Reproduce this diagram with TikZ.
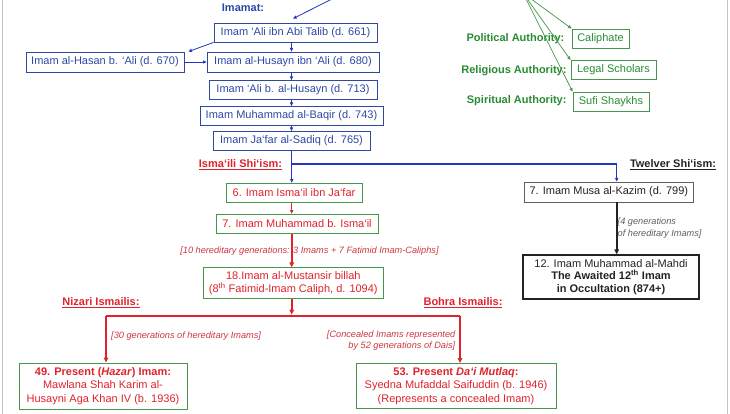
\documentclass[tikz,border=0pt]{standalone}
\usepackage{fontspec}
\setmainfont{Liberation Sans}
\usetikzlibrary{arrows.meta}
\definecolor{bluet}{RGB}{45,72,165}
\definecolor{bluel}{RGB}{35,55,195}
\definecolor{greent}{RGB}{40,140,50}
\definecolor{greenb}{RGB}{70,150,75}
\definecolor{redt}{RGB}{222,35,45}
\definecolor{redi}{RGB}{205,55,65}
\definecolor{darkt}{RGB}{35,35,35}
\definecolor{greyb}{RGB}{95,95,95}
\definecolor{pageline}{RGB}{195,195,195}
\begin{document}
\begin{tikzpicture}[x=1pt,y=-1pt,
  font=\fontsize{11}{13.4}\selectfont,
  tip/.style={-{Triangle[length=3.6pt,width=3.2pt]}},
  bigtip/.style={-{Triangle[length=5pt,width=4.5pt]}},
  bbox/.style={draw=bluet,text=bluet,line width=0.8pt,inner sep=0pt,minimum height=19pt},
  gbox/.style={draw=greenb,line width=0.9pt,inner sep=0pt,minimum height=19pt,align=center},
  kbox/.style={draw=greyb,text=darkt,line width=0.9pt,inner sep=0pt,minimum height=20pt},
  lbl/.style={inner sep=0pt,font=\fontsize{11}{13}\selectfont\bfseries},
  ital/.style={inner sep=0pt,font=\fontsize{9.2}{11.6}\selectfont\itshape},
  bluel/.style={draw=bluel,line width=0.8pt},
  redl/.style={draw=redt,line width=1.9pt},
  greenl/.style={draw=greenb,line width=0.7pt}
]
\useasboundingbox (0,0) rectangle (730,414);
\draw[pageline,line width=1pt] (2,0) -- (2,414);
\draw[pageline,line width=1pt] (727.7,0) -- (727.7,414);

% Imamat chain
\node[lbl,text=bluet] (imamat) at (243,8) {Imamat:};
\coordinate (itop) at (336,-3);
\node[bbox,minimum width=163pt] (ali) at (295.5,32.5) {Imam ‘Ali ibn Abi Talib (d. 661)};
\node[bbox,minimum width=158pt,minimum height=20pt] (hasan) at (105,62) {Imam al-Hasan b. ‘Ali (d. 670)};
\node[bbox,minimum width=172pt,minimum height=20pt] (husayn) at (293,62) {Imam al-Husayn ibn ‘Ali (d. 680)};
\node[bbox,minimum width=168pt] (alib) at (293,90) {Imam ‘Ali b. al-Husayn (d. 713)};
\node[bbox,minimum width=183pt] (baqir) at (291.5,116) {Imam Muhammad al-Baqir (d. 743)};
\node[bbox,minimum width=157pt] (jafar) at (291.5,141) {Imam Ja‘far al-Sadiq (d. 765)};

\draw[bluel,tip] (itop) -- ([shift={(-2.5pt,4pt)}]ali.north);
\draw[bluel,tip] (ali.south west) -- ([xshift=4pt]hasan.north east);
\draw[bluel,tip] (hasan.east) -- (husayn.west);
\draw[bluel,tip] (ali.south -| jafar.center) -- (husayn.north -| jafar.center);
\draw[bluel,tip] (husayn.south -| jafar.center) -- (alib.north -| jafar.center);
\draw[bluel,tip] (alib.south -| jafar.center) -- (baqir.north -| jafar.center);
\draw[bluel,tip] (baqir.south -| jafar.center) -- (jafar.north -| jafar.center);

% authorities
\coordinate (gtop) at (523,-7);
\node[gbox,text=greent,minimum width=57pt] (caliph) at (600.5,38.5) {Caliphate};
\node[gbox,text=greent,minimum width=85pt] (legal) at (613.5,70) {Legal Scholars};
\node[gbox,text=greent,minimum width=76pt] (sufi) at (611,101.5) {Sufi Shaykhs};
\node[lbl,text=greent,anchor=east] (pol) at (564.5,39) {Political Authority:};
\node[lbl,text=greent,anchor=east] (rel) at (566.7,71) {Religious Authority:};
\node[lbl,text=greent,anchor=east] (spi) at (566.7,100.5) {Spiritual Authority:};
\draw[greenl,tip] (gtop) -- (caliph.north west);
\draw[greenl,tip] (gtop) -- (legal.north west);
\draw[greenl,tip] (gtop) -- (sufi.north west);

% branching
\node[lbl,text=redt] (isml) at (240.5,165) {\underline{Isma‘ili Shi‘ism:}};
\node[lbl,text=darkt] (twl) at (673,165) {\underline{Twelver Shi‘ism:}};
\coordinate (br) at (291.7,164);
\coordinate (tw) at (616.7,164);
\node[gbox,text=redt,minimum width=136pt] (isma) at (294,192.7) {6. Imam Isma‘il ibn Ja‘far};
\node[gbox,text=redt,minimum width=162pt] (muh7) at (297,223.7) {7. Imam Muhammad b. Isma‘il};
\node[gbox,text=redt,minimum width=180pt,minimum height=31pt] (b18) at (293.3,283.4) {18.Imam al-Mustansir billah\\(8\textsuperscript{th} Fatimid-Imam Caliph, d. 1094)};
\node[ital,text=redi] (gen10) at (309.5,250.7) {[10 hereditary generations: 3 Imams + 7 Fatimid Imam-Caliphs]};

\node[kbox,minimum width=169pt] (musa) at (608.8,192) {7. Imam Musa al-Kazim (d. 799)};
\node[draw=darkt,text=darkt,line width=1.4pt,inner sep=0pt,minimum width=176pt,minimum height=44pt,align=center,font=\fontsize{11}{12.6}\selectfont] (mahdi) at (611,277) {12. Imam Muhammad al-Mahdi\\\textbf{The Awaited 12\textsuperscript{th} Imam}\\\textbf{in Occultation (874+)}};
\node[ital,text=greyb,anchor=west,align=left] (gen4) at (617.5,228.3) {[4 generations\\of hereditary Imams]};

\draw[bluel,tip] (jafar.south -| br) -- (isma.north -| br);
\draw[draw=bluel,line width=1.4pt] (br) -- (tw);
\draw[draw=bluel,line width=1.4pt,tip] (tw) -- (musa.north -| tw);
\draw[draw=darkt,line width=1.9pt,bigtip] (musa.south -| tw) -- (mahdi.north -| tw);

% red chain
\draw[draw=redt,line width=0.8pt,tip] (isma.south -| br) -- (muh7.north -| br);
\draw[redl,bigtip] (muh7.south -| br) -- (b18.north -| br);
\coordinate (hl) at (291.7,315.7);
\coordinate (nl) at (106,315.7);
\coordinate (nr) at (460,315.7);
\draw[redl,bigtip] (b18.south -| br) -- ([yshift=1pt]hl);

\node[lbl,text=redt] (nizl) at (101,303) {\underline{Nizari Ismailis:}};
\node[lbl,text=redt] (bohl) at (463,302.7) {\underline{Bohra Ismailis:}};
\node[ital,text=redi,anchor=west] (gen30) at (111,335.7) {[30 generations of hereditary Imams]};
\node[ital,text=redi,anchor=east,align=right] (gen52) at (455.5,340.5) {[Concealed Imams represented\\by 52 generations of Dais]};

\node[gbox,text=redt,minimum width=168pt,minimum height=46pt] (nizari) at (103,386) {\textbf{49. Present (\textit{Hazar}) Imam:}\\Mawlana Shah Karim al-\\Husayni Aga Khan IV (b. 1936)};
\node[gbox,text=redt,minimum width=200pt,minimum height=45pt] (bohra) at (456,386) {\textbf{53. Present \textit{Da‘i Mutlaq}:}\\Syedna Mufaddal Saifuddin (b. 1946)\\(Represents a concealed Imam)};

\draw[redl] (nl) -- (nr);
\draw[redl,bigtip] (nl) -- (nizari.north -| nl);
\draw[redl,bigtip] (nr) -- (bohra.north -| nr);
\end{tikzpicture}
\end{document}
